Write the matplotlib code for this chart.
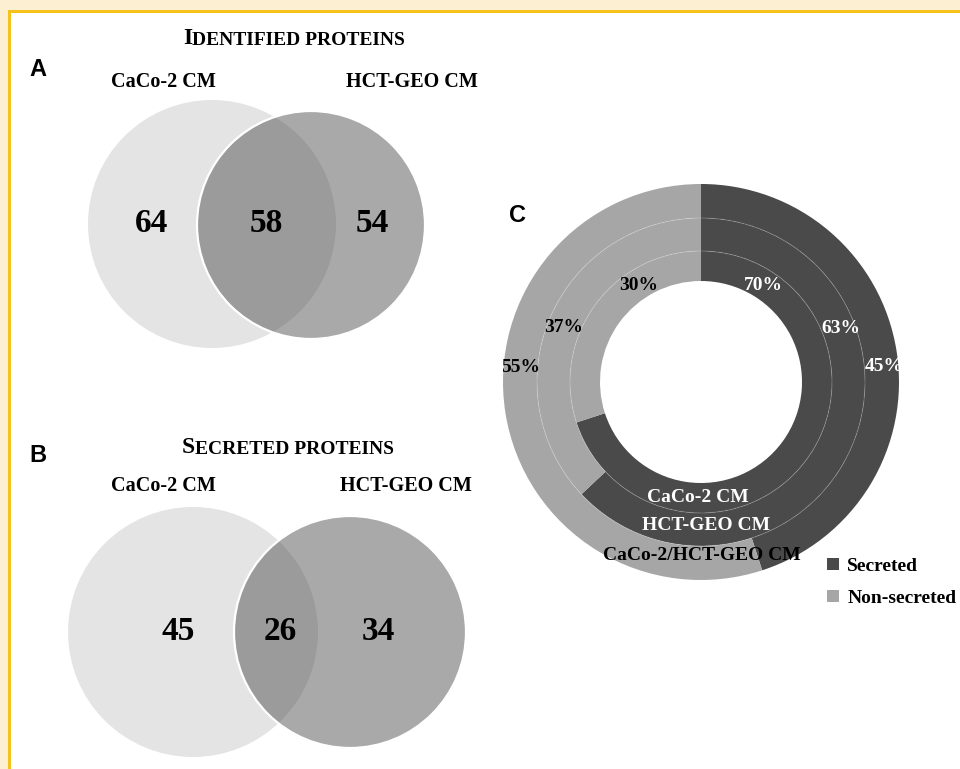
import numpy as np
import matplotlib
matplotlib.use("Agg")
import matplotlib.pyplot as plt
from matplotlib.patches import Circle, Rectangle
from matplotlib.font_manager import FontProperties

# ---- data ----
venn_sets = ["CaCo-2 CM", "HCT-GEO CM"]
identified_counts = [64, 58, 54]   # only CaCo-2, shared, only HCT-GEO
secreted_counts = [45, 26, 34]

ring_names = ["CaCo-2 CM", "HCT-GEO CM", "CaCo-2/HCT-GEO CM"]
pct_secreted = [70, 63, 45]
pct_non_secreted = [30, 37, 55]
legend_labels = ["Secreted", "Non-secreted"]

# ---- style ----
W, H = 960, 769
DARK = "#4a4a4a"
LIGHT = "#a6a6a6"
SERIF = "Liberation Serif"
SANS = "Liberation Sans"

fig = plt.figure(figsize=(W / 100, H / 100), dpi=100, facecolor="#fdf0d2")
ax = fig.add_axes([0, 0, 1, 1])
ax.set_xlim(0, W)
ax.set_ylim(H, 0)
ax.axis("off")

# page frame
ax.add_patch(Rectangle((8, 10), W, H, facecolor="#f5c21b", edgecolor="none"))
ax.add_patch(Rectangle((11, 13), W, H, facecolor="white", edgecolor="none"))


def smallcaps_title(x, y, first, rest):
    t = ax.text(x, y, first, fontsize=17, fontweight="bold", family=SERIF,
                ha="left", va="baseline")
    ax.annotate(rest, xy=(1, 0), xycoords=t, ha="left", va="bottom",
                fontsize=14, fontweight="bold", family=SERIF)


def venn(counts, left_c, left_r, right_c, right_r, label_y, num_y, num_x,
         label_x):
    ax.add_patch(Circle(left_c, left_r, facecolor="#e4e4e4",
                        edgecolor="none", zorder=2))
    ax.add_patch(Circle(right_c, right_r, facecolor=(0.30, 0.30, 0.30, 0.48),
                        edgecolor="white", linewidth=1.6, zorder=3))
    for xx, name in zip(label_x, venn_sets):
        ax.text(xx, label_y, name, fontsize=14.5, fontweight="bold",
                family=SERIF, ha="center", va="baseline")
    for xx, c in zip(num_x, counts):
        ax.text(xx, num_y, str(c), fontsize=24, fontweight="bold",
                family=SERIF, ha="center", va="center", zorder=5)


# Panel A: identified proteins
ax.text(37.5, 69, "A", fontsize=17, fontweight="bold", family=SANS,
        ha="center", va="center")
smallcaps_title(183, 44, "I", "DENTIFIED PROTEINS")
venn(identified_counts, (212, 224), 124, (311, 225), 114,
     87, 224, [152, 266, 372], [163, 412])

# Panel B: secreted proteins
ax.text(37.5, 455, "B", fontsize=17, fontweight="bold", family=SANS,
        ha="center", va="center")
smallcaps_title(182, 453, "S", "ECRETED PROTEINS")
venn(secreted_counts, (193, 632), 125, (350, 632), 116,
     491, 632, [178, 280, 378], [163, 406])

# Panel C: nested donut
ax.text(518, 216, "C", fontsize=17, fontweight="bold", family=SANS,
        ha="center", va="center")

cx, cy, R = 701, 382, 198
dax = fig.add_axes([(cx - R) / W, 1 - (cy + R) / H, 2 * R / W, 2 * R / H])
outer_r = [131 / R, 164 / R, 1.0]
widths = [30 / R, 33 / R, 34 / R]
handles = None
for i in range(3):
    wedges, _ = dax.pie([pct_secreted[i], pct_non_secreted[i]],
                        radius=outer_r[i], startangle=90, counterclock=False,
                        colors=[DARK, LIGHT],
                        wedgeprops=dict(width=widths[i], linewidth=0))
    if handles is None:
        handles = wedges
for r in outer_r[:2]:
    dax.add_patch(Circle((0, 0), r, fill=False, edgecolor=(1, 1, 1, 0.2),
                         linewidth=0.7))
dax.set_xlim(-1, 1)
dax.set_ylim(-1, 1)
dax.axis("off")

# percentage labels: (radius, angle) for the secreted / non-secreted share
label_pos = [((115, 57), (115, 123)),
             ((150, 21), (148, 158.5)),
             ((184, 4.7), (181, 175.3))]
for i in range(3):
    for (r, ang), val, col in zip(label_pos[i],
                                  [pct_secreted[i], pct_non_secreted[i]],
                                  ["white", "black"]):
        a = np.deg2rad(ang)
        dax.text(r / R * np.cos(a), r / R * np.sin(a), f"{val}%",
                 fontsize=14, fontweight="bold", family=SERIF, color=col,
                 ha="center", va="center", clip_on=True)

# ring names
name_pos = [(-3, 116), (5, 144), (1, 174)]
for (dx, dy), name, col in zip(name_pos, ring_names,
                               ["white", "white", "black"]):
    dax.text(dx / R, -dy / R, name, fontsize=14, fontweight="bold",
             family=SERIF, color=col, ha="center", va="center")

fig.legend(handles, legend_labels, loc="upper left",
           bbox_to_anchor=(827 / W, 1 - 558 / H), frameon=False,
           borderpad=0, borderaxespad=0, handlelength=0.6, handleheight=0.6,
           handletextpad=0.45, labelspacing=0.75,
           prop=FontProperties(family=SERIF, weight="bold", size=14))

fig.savefig("out.png", dpi=100, facecolor=fig.get_facecolor())
